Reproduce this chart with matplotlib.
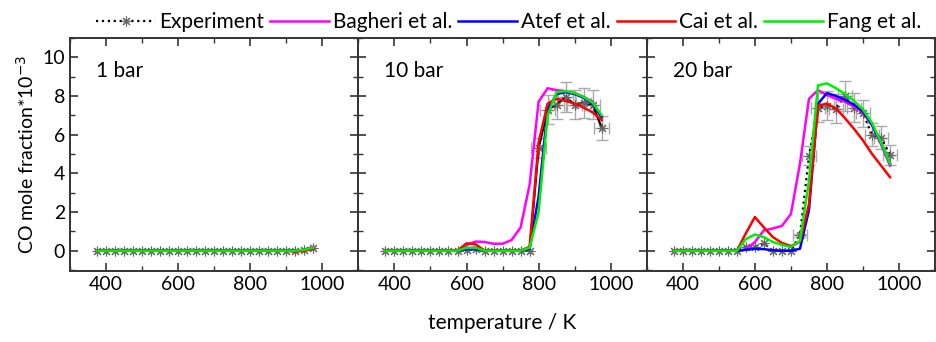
import matplotlib
matplotlib.use("Agg")
import matplotlib.pyplot as plt
import numpy as np
from matplotlib.lines import Line2D
from matplotlib.ticker import MultipleLocator

plt.rcParams['font.family'] = ['Lato', 'DejaVu Sans']

T = [375, 400, 425, 450, 475, 500, 525, 550, 575, 600, 625, 650, 675,
     700, 725, 750, 775, 800, 825, 850, 875, 900, 925, 950, 975]

# 1 bar
exp_1 = [0, 0, 0, 0, 0, 0, 0, 0, 0, 0, 0, 0, 0, 0, 0, 0, 0, 0, 0, 0, 0, 0, 0.0, 0.05, 0.15]
bag_1 = [0, 0, 0, 0, 0, 0, 0, 0, 0, 0, 0, 0, 0, 0, 0, 0, 0, 0, 0, 0, 0, 0, 0.0, 0.05, 0.2]
ate_1 = [0, 0, 0, 0, 0, 0, 0, 0, 0, 0, 0, 0, 0, 0, 0, 0, 0, 0, 0, 0, 0, 0, 0.0, 0.03, 0.12]
cai_1 = [0, 0, 0, 0, 0, 0, 0, 0, 0, 0, 0, 0, 0, 0, 0, 0, 0, 0, 0, 0, 0, 0, -0.05, 0.0, 0.1]
fan_1 = [0, 0, 0, 0, 0, 0, 0, 0, 0, 0, 0, 0, 0, 0, 0, 0, 0, 0, 0, 0, 0, 0, 0.0, 0.05, 0.15]

# 10 bar
exp_10 = [0, 0, 0, 0, 0, 0, 0, 0, 0, 0.05, 0.1, 0, 0, 0, 0, 0, 0,
          5.3, 7.3, 7.55, 7.95, 7.55, 7.65, 7.55, 6.35]
bag_10 = [0, 0, 0, 0, 0, 0, 0, 0, 0, 0.3, 0.47, 0.45, 0.36, 0.36, 0.55, 1.2, 3.4,
          7.7, 8.4, 8.3, 8.25, 8.15, 7.95, 7.7, 6.9]
ate_10 = [0, 0, 0, 0, 0, 0, 0, 0, 0, 0.08, 0.08, 0, 0, 0, 0, 0, 0.1,
          2.8, 7.3, 8.1, 8.2, 8.1, 7.9, 7.6, 6.9]
cai_10 = [0, 0, 0, 0, 0, 0, 0, 0, 0, 0.38, 0.33, 0, 0, 0, 0, 0, 0.2,
          5.6, 7.6, 7.85, 7.75, 7.6, 7.4, 7.15, 6.75]
fan_10 = [0, 0, 0, 0, 0, 0, 0, 0, 0, 0.15, 0.15, 0, 0, 0, 0, 0, 0.15,
          2.0, 7.0, 8.2, 8.25, 8.15, 7.95, 7.65, 7.0]

# 20 bar
exp_20 = [0, 0, 0, 0, 0, 0, 0, 0, 0.2, 0.2, 0.38, 0, 0, 0, 0.8, 4.9, 7.4,
          7.5, 7.35, 8.0, 7.4, 7.1, 6.0, 5.85, 4.95]
bag_20 = [0, 0, 0, 0, 0, 0, 0, 0, 0.05, 0.45, 1.05, 1.15, 1.28, 1.9, 4.5, 7.85, 8.3,
          8.05, 7.85, 7.7, 7.45, 7.15, 6.5, 5.5, 4.4]
ate_20 = [0, 0, 0, 0, 0, 0, 0, 0, 0.05, 0.1, 0.08, 0.02, 0, 0, 0.1, 2.1, 7.6,
          8.15, 8.0, 7.8, 7.55, 7.2, 6.5, 5.6, 4.5]
cai_20 = [0, 0, 0, 0, 0, 0, 0, 0, 0.9, 1.74, 1.2, 0.7, 0.4, 0.24, 0.45, 2.4, 7.5,
          7.6, 7.35, 6.85, 6.3, 5.7, 5.0, 4.4, 3.8]
fan_20 = [0, 0, 0, 0, 0, 0, 0, 0, 0.6, 0.84, 0.7, 0.45, 0.3, 0.19, 0.5, 3.6, 8.55,
          8.65, 8.4, 8.1, 7.75, 7.3, 6.6, 5.6, 4.5]

panel_labels = ["1 bar", "10 bar", "20 bar"]
exp_sets = [exp_1, exp_10, exp_20]
model_sets = [[bag_1, ate_1, cai_1, fan_1],
              [bag_10, ate_10, cai_10, fan_10],
              [bag_20, ate_20, cai_20, fan_20]]
model_names = ["Bagheri et al.", "Atef et al.", "Cai et al.", "Fang et al."]
model_colors = ["#ff00ff", "#0000ff", "#ff0000", "#00ee00"]
exp_styles = ['-', '-', ':']

rel_err = 0.1      # relative uncertainty on mole fraction
t_err = 20         # temperature uncertainty / K

fig, axes = plt.subplots(1, 3, figsize=(9.37, 3.42), dpi=100, sharey=True)
fig.subplots_adjust(left=0.0747, right=0.998, bottom=0.2076, top=0.889, wspace=0)

star = (8, 2, 0)
Ta = np.array(T)
for i, ax in enumerate(axes):
    e = np.array(exp_sets[i], dtype=float)
    ax.plot(Ta, e, color='black', ls=exp_styles[i], lw=1.6, zorder=2)
    m = e > 0.5
    if m.any():
        ax.errorbar(Ta[m], e[m], yerr=rel_err * e[m], xerr=t_err, fmt='none',
                    ecolor='#aaaaaa', elinewidth=1.0, capsize=4, capthick=1.0, zorder=1)
    ax.plot(Ta, e, ls='none', marker=star, ms=7, mec='#666666', mew=0.8, zorder=2.5)
    for vals, c in zip(model_sets[i], model_colors):
        ax.plot(Ta, vals, color=c, lw=1.8, zorder=3)
    ax.set_xlim(300, 1100)
    ax.set_ylim(-1.05, 11)
    ax.set_xticks([400, 600, 800, 1000])
    ax.xaxis.set_minor_locator(MultipleLocator(100))
    ax.yaxis.set_major_locator(MultipleLocator(2))
    ax.yaxis.set_minor_locator(MultipleLocator(1))
    ax.tick_params(which='both', direction='in', top=True, right=True,
                   labelsize=14, color='#333333')
    ax.tick_params(which='major', length=6, width=1.2)
    ax.tick_params(which='minor', length=3.5, width=1.0)
    ax.set_yticks([0, 2, 4, 6, 8, 10])
    for s in ax.spines.values():
        s.set_linewidth(1.4)
        s.set_color('#333333')
    ax.text(0.09, 0.90, panel_labels[i], transform=ax.transAxes, fontsize=15,
            ha='left', va='top')
    if i > 0:
        ax.tick_params(labelleft=False)

axes[0].set_ylabel("CO mole fraction*10$^{-3}$", fontsize=14, labelpad=4)
fig.text(0.536, 0.025, "temperature / K", fontsize=15, ha='center', va='bottom')

handles = [Line2D([], [], color='black', ls=':', lw=1.6, marker=star, ms=7,
                  mec='#666666', mew=0.8)]
handles += [Line2D([], [], color=c, lw=1.8) for c in model_colors]
labels = ["Experiment"] + model_names
fig.legend(handles, labels, ncol=5, loc='upper center', bbox_to_anchor=(0.543, 1.02),
           frameon=False, fontsize=15, handlelength=2.8, handletextpad=0.2,
           columnspacing=0.3, numpoints=1)

fig.savefig("out.png", dpi=100)
